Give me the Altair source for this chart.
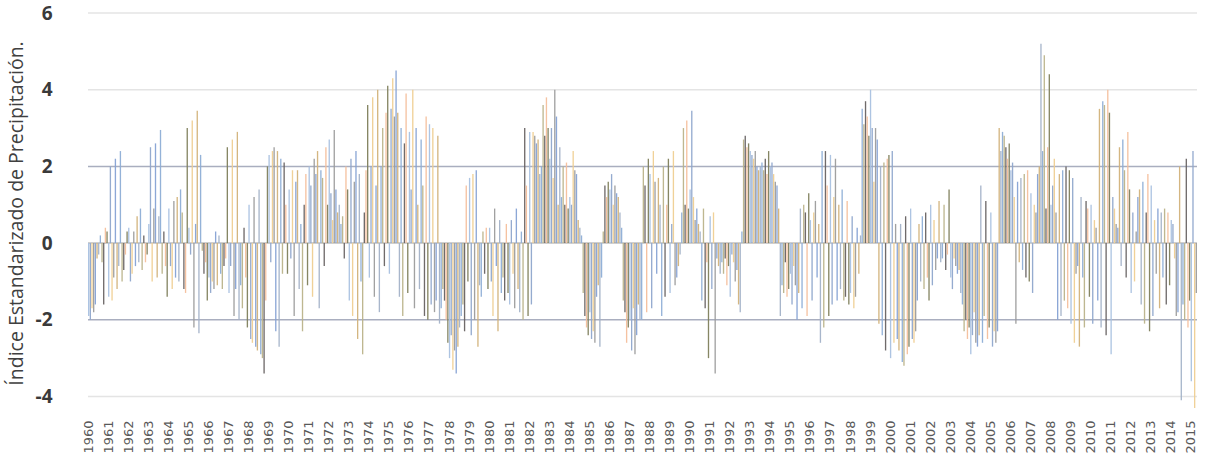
import altair as alt
import pandas as pd

# Monthly Standardized Precipitation Index, Jan 1960 - Apr 2015 (one row per year)
spi_1960s = [
    -1.9, -2.0, -1.7, -1.8, -1.6, -0.4, -0.3, 0.2, -0.5, -1.6, 0.4, 0.3,     # 1960
    -1.4, 2.0, -1.5, -0.9, 2.2, -1.2, -0.6, 2.4, -1.0, -0.7, -0.3, 0.3,      # 1961
    0.4, -1.0, -0.8, 0.3, -0.6, 0.7, -0.5, 0.9, -0.7, 0.2, -0.5, -0.3,       # 1962
    0.5, 2.5, -1.0, 0.9, 2.6, -0.9, 0.7, 2.95, -0.8, 0.3, -0.6, -1.4,        # 1963
    0.9, -0.6, -1.2, 1.1, -0.9, 1.2, -1.0, 1.4, 0.8, -1.2, -1.3, 3.0,        # 1964
    0.4, -0.3, 3.2, -2.2, 0.5, 3.45, -2.35, 2.3, -0.2, -0.8, -0.5, -1.5,     # 1965
    -0.9, -1.3, -1.0, -1.2, 0.3, -1.1, 0.2, -0.8, -1.2, -0.6, -0.4, 2.5,     # 1966
    -1.3, -0.6, 2.7, -1.9, -1.2, 2.9, -2.0, -1.1, -1.7, 0.4, -0.9, -2.2,     # 1967
    1.0, -2.5, -2.6, 1.2, -2.7, -2.8, 1.4, -2.9, -3.0, -3.4, -1.5, 2.0,      # 1968
    2.3, -0.5, 2.4, 2.5, -2.3, 2.4, -2.7, 2.2, -0.8, 2.1, 1.0, -0.8,         # 1969
]
spi_1970s = [
    1.4, -0.4, 1.9, -1.9, 1.6, 1.9, -1.2, 0.5, -2.3, 1.0, 1.8, -1.1,         # 1970
    2.0, 1.5, -1.4, 2.2, 1.8, 2.4, -1.7, 1.9, 1.7, -0.6, 2.5, 1.0,           # 1971
    2.7, 1.3, 0.6, 2.95, 1.4, 0.8, 1.0, 0.5, 0.7, -0.4, 2.0, 1.4,            # 1972
    -1.5, 2.2, -1.9, 1.6, 2.4, -2.5, 1.8, -1.0, -2.9, 0.8, 1.9, 3.6,         # 1973
    -0.9, 2.0, 3.8, -1.4, 1.5, 4.0, -1.8, 2.0, 3.0, -0.6, 3.4, 4.1,          # 1974
    -0.8, 3.5, 4.3, 3.3, 4.5, 3.4, -1.4, 3.0, -1.9, 2.6, 3.9, -1.3,          # 1975
    2.9, 1.4, 4.0, -1.7, 3.0, 1.0, -1.2, 2.7, 1.5, -1.9, 3.3, -2.0,          # 1976
    3.1, -1.6, 3.0, -1.8, -1.5, 2.8, -2.1, -1.7, -1.2, -1.5, -2.0, -2.6,     # 1977
    -3.0, -2.4, -3.3, -2.8, -3.4, -2.7, -2.2, -1.9, -1.6, -2.3, 1.5, -1.0,   # 1978
    1.7, -2.4, 1.8, -2.0, 1.9, -2.7, -1.1, -1.4, 0.3, -0.8, 0.4, -1.2,       # 1979
]
spi_1980s = [
    0.4, -1.0, -1.9, 0.9, -0.6, -2.3, 0.6, -1.3, -0.9, -1.5, 0.5, -1.3,      # 1980
    -1.6, 0.6, -0.8, -1.7, 0.9, -1.2, -1.8, 0.3, -2.0, 3.0, 1.5, -1.9,       # 1981
    2.9, -1.6, 2.9, 2.8, 2.6, 2.7, 1.8, 2.0, 3.6, 2.8, 3.8, 3.0,             # 1982
    2.2, 3.0, 1.7, 4.0, 3.3, 1.0, 2.5, 1.2, 2.0, 1.0, 2.1, 0.9,              # 1983
    1.2, 1.0, 2.4, 1.9, 1.8, 0.6, 0.4, 0.2, -1.3, -1.9, -2.2, -2.4,          # 1984
    -1.8, -2.5, -2.3, -2.6, -1.4, -1.1, -2.7, -0.9, 0.3, 1.5, 1.2, 1.6,      # 1985
    1.4, 1.8, 1.0, 1.5, 1.3, 1.2, 0.8, 0.4, -1.5, -1.8, -2.6, -2.2,          # 1986
    -2.0, -2.8, -1.7, -2.9, -2.4, -1.6, -2.0, -2.0, 2.0, 1.5, -1.8, 2.2,     # 1987
    1.8, -1.7, 2.4, 1.6, -0.8, 1.7, 1.0, -1.9, 2.0, -1.4, 1.0, 2.2,          # 1988
    -1.3, 0.5, 2.4, -1.1, -0.9, -0.6, -0.3, 0.8, 3.0, 1.0, 3.2, 0.9,         # 1989
]
spi_1990s = [
    1.4, 3.45, 1.2, 0.6, 0.9, 0.5, 0.3, -1.5, 0.9, -1.7, -0.5, -3.0,         # 1990
    0.7, -1.2, 0.8, -3.4, -0.4, -0.6, -0.8, -0.5, -0.8, -0.4, -1.1, -0.6,    # 1991
    -1.4, -0.3, -0.5, -1.0, -0.7, -1.6, -1.8, 0.3, 2.7, 2.8, 2.5, 2.6,       # 1992
    2.4, 2.3, 2.2, 2.4, 2.0, 1.9, 2.0, 2.1, 1.9, 2.2, 1.8, 2.4,              # 1993
    2.0, 2.1, 1.8, 1.6, 1.5, 0.9, -1.9, -1.1, -1.3, -0.5, -1.4, -1.2,        # 1994
    -0.8, -1.6, -0.6, -1.1, -2.0, -1.3, 0.9, -1.7, 1.0, 0.8, -1.9, 1.3,      # 1995
    0.6, -1.5, 0.8, 1.1, -0.9, 0.5, -2.6, 2.4, -2.2, 2.4, 1.5, -1.9,         # 1996
    2.3, -1.6, 1.2, 2.2, -1.5, 1.0, -1.2, 1.4, -1.5, -1.4, 1.1, -1.6,        # 1997
    -1.3, 0.7, -1.7, -1.4, 0.4, -0.8, 0.2, 3.5, 3.1, 3.7, 3.3, 2.8,          # 1998
    4.0, 3.0, 1.6, 3.0, 2.7, -2.1, 2.0, -2.4, 2.1, -2.8, 2.2, 2.3,           # 1999
]
spi_2000s = [
    -3.0, 2.4, -2.6, 0.5, -2.5, -2.8, 0.5, -3.1, -3.2, 0.7, -2.9, -2.7,      # 2000
    0.9, -2.5, -2.6, -2.3, -1.5, 0.5, -1.0, 0.7, -1.2, 0.8, -0.9, -1.5,      # 2001
    1.0, -1.1, 0.6, -0.7, -0.4, 1.1, -0.5, -0.4, 1.0, -0.7, -0.3, 1.4,       # 2002
    -0.9, -1.2, -0.4, -0.6, -0.8, -0.7, -1.3, -1.6, -2.3, -2.0, -2.5, -2.2,  # 2003
    -2.9, -2.4, -1.8, -2.6, -2.7, -2.4, 1.5, -2.6, -1.9, 1.1, -2.5, -2.2,    # 2004
    0.8, -2.7, -2.3, -2.6, -2.3, 3.0, 2.4, 2.9, 2.8, 2.5, 2.2, 2.6,          # 2005
    1.9, 2.1, 1.2, -2.1, 1.6, -0.5, 1.7, -0.7, 1.8, -0.9, 1.9, -1.0,         # 2006
    1.3, -1.3, 1.0, 0.8, 1.8, 2.0, 5.2, 2.4, 4.9, 0.9, 2.5, 4.4,             # 2007
    1.0, 1.5, 2.2, 0.8, -2.0, 1.8, -1.9, 1.9, -1.5, 2.0, -1.7, 1.9,          # 2008
    -2.1, 1.7, -2.6, -0.8, -0.6, -2.7, 1.2, -0.9, -2.2, 1.1, 0.9, -1.4,      # 2009
]
spi_2010s = [
    1.0, -2.1, 0.6, 0.4, -1.5, 3.5, -2.2, 3.7, 3.6, -2.4, 4.0, 3.4,          # 2010
    -2.9, 1.2, 0.9, 0.5, 0.4, 2.5, -0.6, 2.7, 1.9, -0.9, 2.9, 1.4,           # 2011
    -1.3, 0.8, -1.0, 0.3, 1.2, 1.4, -1.6, 1.6, -2.1, 0.8, 1.8, -2.3,         # 2012
    1.5, -1.9, 0.6, -0.8, 0.9, -1.7, 0.8, -0.9, 0.9, -1.6, 0.8, -1.1,        # 2013
    0.6, 0.5, -0.4, -1.9, -1.8, 2.0, -4.1, -1.6, -2.0, 2.2, -2.2, -1.5,      # 2014
    -3.6, 2.4, -4.3, -1.3,                                                   # 2015
]

first_year = 1960
last_year = 2015
month_colors = [
    "#a9c1e0", "#8fa6cc", "#efcf92", "#9c9c9c", "#86a2d4", "#d2b27a",
    "#a3b2c8", "#8eaed6", "#bbb38a", "#676262", "#f4bf9c", "#7f7f5c",
]
grid_values = [6, 4, 2, 0, -2, -4]
grid_colors = ["#e4e4e4", "#e4e4e4", "#a9aebf", "#bfbfbf", "#a9aebf", "#e4e4e4"]
y_ticks = [-4, -2, 0, 2, 4, 6]

series = spi_1960s + spi_1970s + spi_1980s + spi_1990s + spi_2000s + spi_2010s
records = []
for i, v in enumerate(series):
    year = first_year + i // 12
    month = i % 12
    records.append({"mes": f"{year}-{month + 1:02d}", "spi": v,
                    "color": month_colors[month]})
df = pd.DataFrame(records)
grid_df = pd.DataFrame({"v": grid_values, "c": grid_colors})
january_keys = [f"{y}-01" for y in range(first_year, last_year + 1)]

y_scale = alt.Scale(domain=[-4.3, 6], nice=False, zero=True)
y_axis = alt.Axis(
    values=y_ticks,
    labelExpr="'' + datum.value",
    grid=False,
    domain=False,
    ticks=False,
    labelFont="Open Sans",
    labelFontSize=19,
    labelFontWeight="bold",
    labelColor="#3a3a3a",
    labelPadding=36,
    title="Índice Estandarizado de Precipitación.",
    titleFont="Open Sans",
    titleFontSize=19.5,
    titleFontWeight="normal",
    titleColor="#404040",
    titleAngle=270,
    titleAlign="center",
    titleBaseline="middle",
    titleX=-72,
    titleY=200,
)

grid = alt.Chart(grid_df).mark_rule(strokeWidth=1.5).encode(
    y=alt.Y("v:Q", scale=y_scale, axis=y_axis),
    color=alt.Color("c:N", scale=None),
)

bars = alt.Chart(df).mark_bar(opacity=0.95).encode(
    x=alt.X(
        "mes:O",
        scale=alt.Scale(paddingInner=0.2, paddingOuter=0),
        axis=alt.Axis(
            values=january_keys,
            labelExpr="slice(datum.value, 0, 4)",
            labelAngle=270,
            labelFont="DejaVu Sans",
            labelFontSize=13,
            labelColor="#595959",
            labelPadding=12,
            domain=False,
            ticks=False,
            title=None,
        ),
    ),
    y=alt.Y("spi:Q", scale=y_scale, axis=y_axis),
    color=alt.Color("color:N", scale=None),
)

chart = alt.layer(grid, bars).properties(
    width=1109,
    height=395,
    padding={"left": 88, "top": 13, "right": 8, "bottom": 51},
    autosize=alt.AutoSizeParams(type="none"),
).configure_view(strokeWidth=0)

chart.save("out.html", embed_options={"renderer": "svg", "actions": False})
